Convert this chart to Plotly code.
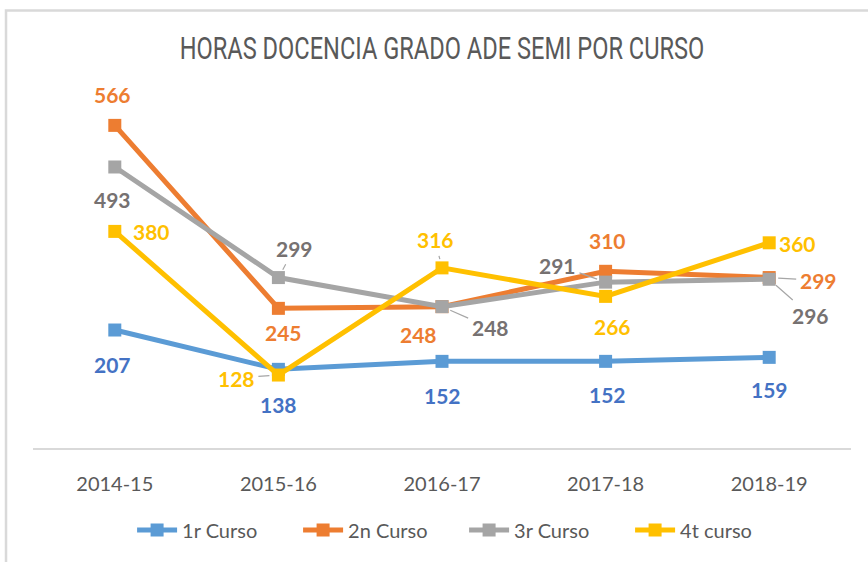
import plotly.graph_objects as go

categories = ["2014-15", "2015-16", "2016-17", "2017-18", "2018-19"]
series_names = ["1r Curso", "2n Curso", "3r Curso", "4t curso"]
curso1 = [207, 138, 152, 152, 159]
curso2 = [566, 245, 248, 310, 299]
curso3 = [493, 299, 248, 291, 296]
curso4 = [380, 128, 316, 266, 360]
series_values = [curso1, curso2, curso3, curso4]

line_colors = ["#5B9BD5", "#ED7D31", "#A5A5A5", "#FFC000"]
label_colors = ["#4472C4", "#ED7D31", "#767171", "#FFC000"]

# label offsets in pixels (dx, dy screen, dy positive = down), and leader-line flag
label_offsets = [
    [(-2, 34, False), (0, 35, False), (0, 34, False), (2, 33, False), (0, 32, False)],
    [(-2, -31, False), (5, 24, False), (-24, 28, False), (2, -31, False), (49, 3, True)],
    [(-2, 33, False), (16, -29, True), (48, 21, True), (-48, -17, True), (41, 36, True)],
    [(37, 0, False), (-42, 3, True), (-7, -28, True), (7, 30, False), (28, 1, False)],
]

fig = go.Figure()
for name, vals, col in zip(series_names, series_values, line_colors):
    fig.add_trace(go.Scatter(
        x=list(range(len(categories))), y=vals, name=name,
        mode="lines+markers",
        line=dict(color=col, width=5),
        marker=dict(symbol="square", size=13, color=col),
    ))

annotations = []
for vals, col, offs in zip(series_values, label_colors, label_offsets):
    for i, (v, (dx, dy, lead)) in enumerate(zip(vals, offs)):
        a = dict(
            x=i, y=v, xref="x", yref="y", text=f"<b>{v}</b>",
            font=dict(family="Lato, Open Sans, sans-serif", size=21, color=col),
        )
        if lead:
            a.update(showarrow=True, ax=dx, ay=dy, arrowhead=0, arrowwidth=1.2,
                     arrowcolor="#A6A6A6", standoff=9, startstandoff=2)
        else:
            a.update(showarrow=False, xshift=dx, yshift=-dy)
        annotations.append(a)

fig.update_layout(
    width=868, height=562,
    margin=dict(l=33, r=17, t=106, b=112),
    paper_bgcolor="white", plot_bgcolor="white",
    title=dict(
        text="HORAS DOCENCIA GRADO ADE SEMI POR CURSO",
        font=dict(family="Roboto, sans-serif", size=32, color="#595959"),
        xref="paper", x=0.5, xanchor="center", y=0.915, yanchor="middle",
    ),
    xaxis=dict(
        range=[-0.5, 4.5], tickmode="array", tickvals=list(range(len(categories))),
        ticktext=categories, showgrid=False, zeroline=False,
        showline=True, linecolor="#D9D9D9", linewidth=2,
        tickfont=dict(family="Lato, sans-serif", size=20, color="#595959"),
        ticks="", ticklabelstandoff=17,
    ),
    yaxis=dict(range=[0, 600], visible=False, showgrid=False, zeroline=False),
    legend=dict(
        orientation="h", x=0.527, xanchor="center", y=-0.24, yanchor="middle",
        font=dict(family="Lato, sans-serif", size=20, color="#595959"),
        itemwidth=40, entrywidth=111, tracegroupgap=0,
    ),
    annotations=annotations,
    shapes=[dict(type="rect", xref="paper", yref="paper",
                 x0=-0.033, x1=1.2, y0=-0.4, y1=1.279,
                 line=dict(color="#D9D9D9", width=2.5), layer="below")],
)

post = """
document.body.style.margin='0';
var t = document.querySelector('.gtitle');
if (t) {
  var bb = t.getBBox();
  var cx = bb.x + bb.width/2;
  var s = 525/bb.width;
  t.setAttribute('transform', 'translate(' + cx + ',0) scale(' + s + ',1) translate(' + (-cx) + ',0)');
}
"""

fig.write_html("out.html", post_script=post, config={"displayModeBar": False})
